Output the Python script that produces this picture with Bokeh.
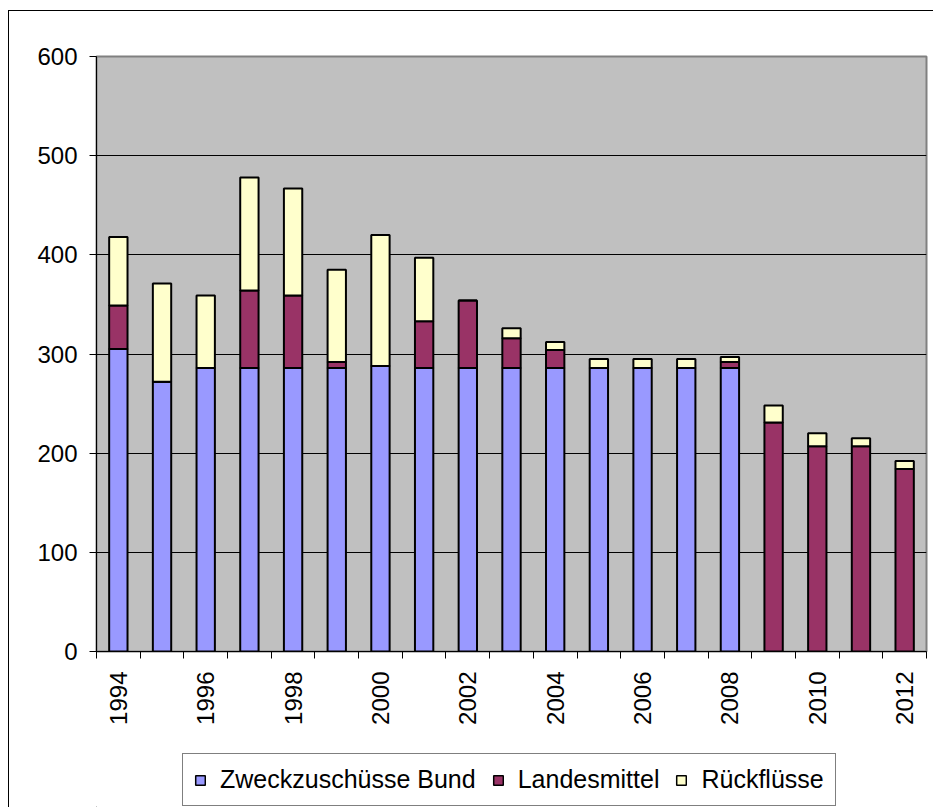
import math
from bokeh.plotting import figure
from bokeh.layouts import column
from bokeh.models import (ColumnDataSource, Range1d, FixedTicker, Legend, LegendItem)
from bokeh.embed import file_html
from bokeh.resources import INLINE

# ---- data ----
years = [1994, 1995, 1996, 1997, 1998, 1999, 2000, 2001, 2002, 2003,
         2004, 2005, 2006, 2007, 2008, 2009, 2010, 2011, 2012]
bund = [305, 272, 286, 286, 286, 286, 288, 286, 286, 286,
        286, 286, 286, 286, 286, 0, 0, 0, 0]
landes = [44, 0, 0, 78, 73, 6, 0, 47, 68, 30,
          18, 0, 0, 0, 6, 231, 207, 207, 184]
rueck = [69, 99, 73, 114, 108, 93, 132, 64, 0, 10,
         8, 9, 9, 9, 5, 17, 13, 8, 8]
series_names = ["Zweckzuschüsse Bund", "Landesmittel", "Rückflüsse"]
series_colors = ["#9999FF", "#993366", "#FFFFCC"]
x_tick_labels = ["1994", "1996", "1998", "2000", "2002", "2004", "2006", "2008", "2010", "2012"]
y_ticks = [0, 100, 200, 300, 400, 500, 600]

FONT = "Liberation Sans"

source = ColumnDataSource(data=dict(year=years, bund=bund, landes=landes, rueck=rueck))

W = 924
H1 = 724
H2 = 72

p = figure(width=W, height=H1, output_backend="svg", toolbar_location=None,
           x_range=Range1d(years[0] - 0.5, years[-1] + 0.5),
           y_range=Range1d(0, 600),
           min_border_left=87, min_border_top=45, min_border_right=7,
           min_border_bottom=84)

p.background_fill_color = "#C0C0C0"
p.border_fill_color = "white"
p.outline_line_color = "#808080"
p.outline_line_width = 2

renderers = p.vbar_stack(["bund", "landes", "rueck"], x="year", width=0.42,
                         color=series_colors, line_color="black", line_width=2,
                         source=source)

# grid
p.xgrid.grid_line_color = None
p.ygrid.grid_line_color = "#000000"
p.ygrid.grid_line_width = 1
p.ygrid.ticker = FixedTicker(ticks=y_ticks)

# y axis
p.yaxis.ticker = FixedTicker(ticks=y_ticks)
p.yaxis.major_tick_out = 7
p.yaxis.major_tick_in = 0
p.yaxis.minor_tick_line_color = None
p.yaxis.axis_line_color = "black"
p.yaxis.major_tick_line_color = "black"
p.yaxis.major_label_text_font = FONT
p.yaxis.major_label_text_font_size = "24px"
p.yaxis.major_label_text_color = "black"
p.yaxis.major_label_standoff = 12

# x axis
label_years = [int(t) for t in x_tick_labels]
boundaries = [y - 0.5 for y in years] + [years[-1] + 0.5]
p.xaxis.ticker = FixedTicker(ticks=label_years, minor_ticks=boundaries)
p.xaxis.major_label_overrides = {y: t for y, t in zip(label_years, x_tick_labels)}
p.xaxis.major_tick_out = 0
p.xaxis.major_tick_in = 0
p.xaxis.minor_tick_out = 7
p.xaxis.minor_tick_in = 0
p.xaxis.minor_tick_line_color = "black"
p.xaxis.axis_line_color = "black"
p.xaxis.major_label_orientation = math.pi / 2
p.xaxis.major_label_text_font = FONT
p.xaxis.major_label_text_font_size = "24px"
p.xaxis.major_label_text_color = "black"
p.xaxis.major_label_standoff = 13

# legend figure (below the chart); its frame is aligned with the main frame
p2 = figure(width=W, height=H2, output_backend="svg", toolbar_location=None,
            x_range=Range1d(0, 1), y_range=Range1d(0, 1),
            min_border_left=87, min_border_right=7, min_border_top=0, min_border_bottom=0)
p2.axis.visible = False
p2.grid.visible = False
p2.outline_line_color = None
p2.background_fill_color = "white"
p2.border_fill_color = "white"

# legend swatch renderers (kept outside the visible range)
dummy = []
for c in series_colors:
    dummy.append(p2.vbar(x=[-10], top=[-10], bottom=[-11], width=0.1,
                         fill_color=c, line_color="black", line_width=1.5))

items = [LegendItem(label=n, renderers=[r]) for n, r in zip(series_names, dummy)]
legend = Legend(items=items, orientation="horizontal", location=(86, 1))
legend.label_text_font = FONT
legend.label_text_font_size = "25px"
legend.label_text_color = "black"
legend.glyph_width = 12
legend.glyph_height = 12
legend.label_standoff = 14
legend.spacing = 16
legend.padding = 11
legend.margin = 0
legend.border_line_color = "black"
legend.border_line_width = 1
legend.background_fill_color = "white"
legend.background_fill_alpha = 1
p2.add_layout(legend, "center")

layout = column(p, p2, spacing=0)
layout.margin = (10, 0, 0, 8)
layout.styles = {"border-left": "1.5px solid black", "border-top": "1.5px solid black"}

open("out.html", "w").write(file_html(layout, INLINE))
